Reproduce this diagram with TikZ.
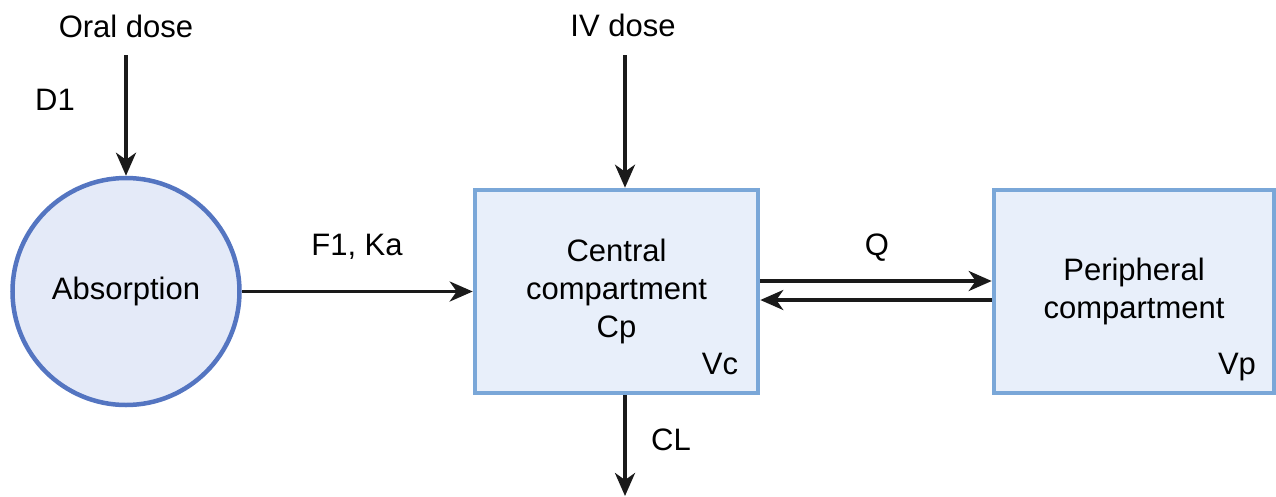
\documentclass[tikz,border=0pt]{standalone}
\usepackage{fontspec}
\setmainfont{Liberation Sans}
\usetikzlibrary{arrows.meta}
\definecolor{circfill}{HTML}{E4EAF8}
\definecolor{circline}{HTML}{5475C1}
\definecolor{boxfill}{HTML}{E8EFFA}
\definecolor{boxline}{HTML}{7AA7D8}
\definecolor{arrowcol}{HTML}{1A1A1A}
\begin{document}
\begin{tikzpicture}[x=1pt,y=-1pt,
  every node/.style={font=\fontsize{31}{38}\selectfont, text=black},
  lbl/.style={anchor=base, inner sep=0pt},
  circnode/.style={circle, draw=circline, fill=circfill, line width=4.5pt, minimum size=227pt, inner sep=0pt},
  compbox/.style={rectangle, draw=boxline, fill=boxfill, line width=4.6pt, align=center, inner sep=0pt},
  arr/.style={draw=arrowcol, line width=3.6pt, -{Stealth[length=23pt,width=20pt,inset=7pt]}}
]
\useasboundingbox (0,0) rectangle (1276,496);

\node[circnode] (abs) at (126,291.5) {Absorption};
\node[compbox, minimum width=283pt, minimum height=203pt] (cen) at (616.5,291.5) {Central\\compartment\\Cp};
\node[compbox, minimum width=280pt, minimum height=203pt] (per) at (1134,291.5) {Peripheral\\compartment};

\node[lbl] (oral) at (126,37) {Oral dose};
\node[lbl] (d1) at (55,110) {D1};
\node[lbl] (iv) at (623,36) {IV dose};
\node[lbl] (fka) at (357,255) {F1, Ka};
\node[lbl] (q) at (877,255) {Q};
\node[lbl] (vc) at (720,374) {Vc};
\node[lbl] (vp) at (1237,374) {Vp};
\node[lbl] (cl) at (671,450) {CL};

\coordinate (oraltop) at (126,55);
\coordinate (ivtop) at (625,55);
\coordinate (qright) at (877,281);
\coordinate (qleft) at (877,300);
\coordinate (clend) at (625,496);

\draw[arr] (oraltop) -- (abs.north);
\draw[arr] (ivtop) -- (ivtop |- cen.north);
\draw[arr] (abs.east) -- (cen.west);
\draw[arr] (cen.east |- qright) -- (per.west |- qright);
\draw[arr] (per.west |- qleft) -- (cen.east |- qleft);
\draw[arr] (clend |- cen.south) -- (clend);
\end{tikzpicture}
\end{document}
